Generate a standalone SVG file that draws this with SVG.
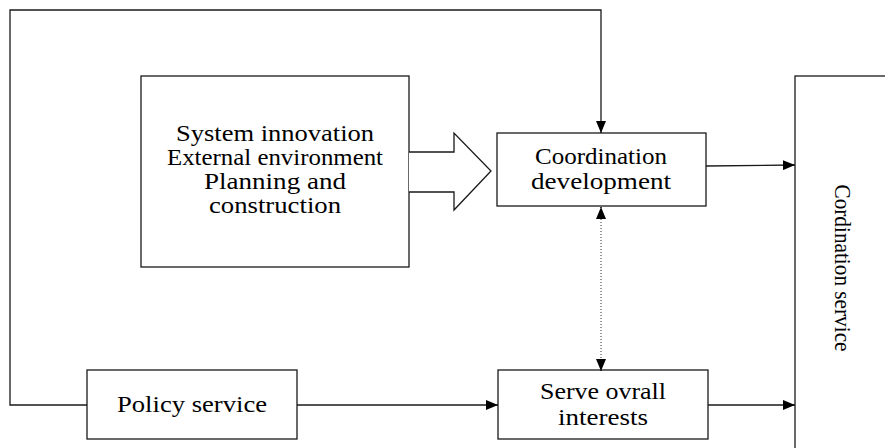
<svg xmlns="http://www.w3.org/2000/svg" width="885" height="448" viewBox="0 0 885 448">
<style>
.box{fill:#fff;stroke:#1a1a1a;stroke-width:1.3}
.ln{fill:none;stroke:#1a1a1a;stroke-width:1.3}
.dot{fill:none;stroke:#555;stroke-width:1.2;stroke-dasharray:1,2}
.t{font-family:"Liberation Serif","Times New Roman",serif;font-size:24px;fill:#000;text-anchor:middle}
</style>
<defs>
<marker id="ah" markerUnits="userSpaceOnUse" viewBox="0 0 12 10" markerWidth="12" markerHeight="10" refX="12" refY="5" orient="auto-start-reverse">
<path d="M0,0 L12,5 L0,10 z" fill="#000"/>
</marker>
</defs>
<rect width="885" height="448" fill="#fff"/>
<g id="factors">
<rect class="box" x="141" y="76" width="268" height="191"/>
<text class="t" x="275" y="141" textLength="198" lengthAdjust="spacingAndGlyphs">System innovation</text>
<text class="t" x="275" y="165" textLength="216" lengthAdjust="spacingAndGlyphs">External environment</text>
<text class="t" x="275" y="189" textLength="142" lengthAdjust="spacingAndGlyphs">Planning and</text>
<text class="t" x="275" y="213" textLength="132" lengthAdjust="spacingAndGlyphs">construction</text>
</g>
<g id="coordination-development">
<rect class="box" x="497" y="133" width="209" height="73"/>
<text class="t" x="601" y="164" textLength="132" lengthAdjust="spacingAndGlyphs">Coordination</text>
<text class="t" x="601" y="189" textLength="140" lengthAdjust="spacingAndGlyphs">development</text>
</g>
<g id="policy-service">
<rect class="box" x="87" y="370" width="210" height="69"/>
<text class="t" x="192" y="412" textLength="150" lengthAdjust="spacingAndGlyphs">Policy service</text>
</g>
<g id="serve-overall">
<rect class="box" x="498" y="370" width="210" height="69"/>
<text class="t" x="603" y="399" textLength="126" lengthAdjust="spacingAndGlyphs">Serve ovrall</text>
<text class="t" x="603" y="425" textLength="90" lengthAdjust="spacingAndGlyphs">interests</text>
</g>
<g id="coordination-service">
<rect class="box" x="795" y="76" width="110" height="400"/>
<text class="t" transform="translate(843,268) rotate(90)" x="0" y="8" textLength="167" lengthAdjust="spacingAndGlyphs">Cordination service</text>
</g>
<g id="connectors">
<path class="ln" d="M87,405 H10 V10 H601 V133" marker-end="url(#ah)"/>
<polyline class="box" points="409,152 454,152 454,133 491,171 454,210 454,192 409,192"/>
<path class="ln" d="M706,166 L795,165" marker-end="url(#ah)"/>
<path class="dot" d="M601,207 V371"/>
<path class="ln" d="M601,207 V208" stroke="none" marker-start="url(#ah)"/>
<path class="ln" d="M601,370 V371" stroke="none" marker-end="url(#ah)"/>
<path class="ln" d="M297,405 H498" marker-end="url(#ah)"/>
<path class="ln" d="M708,405 H795" marker-end="url(#ah)"/>
</g>
</svg>
